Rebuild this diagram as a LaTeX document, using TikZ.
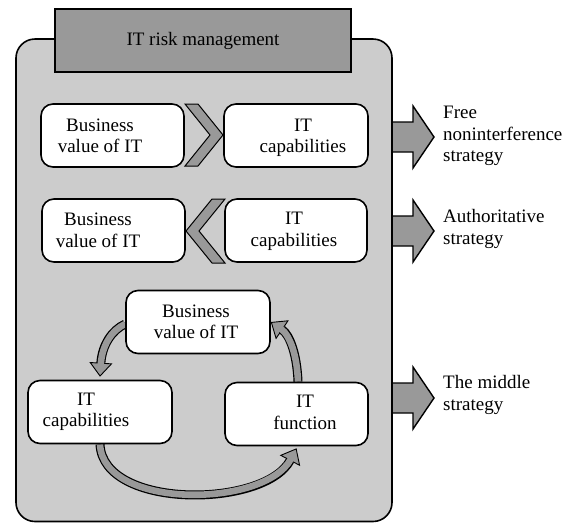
\documentclass[tikz,border=0pt]{standalone}
\usepackage{fontspec}
\setmainfont{Liberation Serif}
\usetikzlibrary{arrows.meta,calc}
\definecolor{lgray}{RGB}{204,204,204}
\definecolor{agray}{RGB}{153,153,153}
\pgfdeclarelayer{back}
\pgfdeclarelayer{mid}
\pgfsetlayers{back,mid,main}
\newcommand\cyclearrow[1]{%
  \draw[line width=0.9pt,-{Triangle[width=23pt,length=14pt,fill=agray]}] #1;
  \draw[line width=9pt,shorten >=13.5pt] #1;
  \draw[line width=6.6pt,agray,shorten >=12pt] #1;}
\begin{document}
\begin{tikzpicture}[x=1pt,y=-1pt,
  box/.style={draw,fill=white,line width=1.6pt,rounded corners=12pt,
    minimum width=143pt,minimum height=63pt,inner sep=0pt},
  txt/.style={font=\fontsize{19}{21.5}\selectfont,align=center,inner sep=0pt},
  rtxt/.style={txt,align=left,anchor=west},
  chev/.style={fill=agray,draw=black,line width=1pt,line join=miter},
  bigarrow/.style={fill=agray,draw=black,line width=1.4pt,line join=miter}]
\useasboundingbox (0,0) rectangle (569,523);

% boxes
\node[box] (bv1) at (112.5,135.5) {};
\node[box,minimum width=144pt] (cap1) at (296,135.5) {};
\node[box] (bv2) at (113.5,230.5) {};
\node[box,minimum width=142pt] (cap2) at (296,230.5) {};
\node[box,minimum width=144pt] (bv3) at (198,322) {};
\node[box,minimum width=144pt] (cap3) at (100,412) {};
\node[box] (fn3) at (296.5,414) {};

% texts in boxes
\node[txt] (bv1t) at (100,136) {Business\\value of IT};
\node[txt] (cap1t) at (303,138) {IT\\capabilities};
\node[txt] (bv2t) at (98,230.5) {Business\\value of IT};
\node[txt] (cap2t) at (294,231.5) {IT\\capabilities};
\node[txt] (bv3t) at (196,322) {Business\\value of IT};
\node[txt] (cap3t) at (86,412) {IT\\capabilities};
\node[txt] (fn3t) at (305,412.5) {IT\\function};

% title
\node[draw,fill=agray,line width=1.6pt,minimum width=296pt,minimum height=63pt,
  inner sep=0pt,font=\fontsize{19}{21.5}\selectfont] (title) at (203,40.5) {IT risk management};

% chevrons
\filldraw[chev] (185,104) -- (198,104) -- (223,135) -- (198,166) -- (185,166) -- (210,135) -- cycle;
\filldraw[chev] (225,199) -- (212,199) -- (186,231) -- (212,263) -- (225,263) -- (199,231) -- cycle;

% strategy texts
\node[rtxt] (s1) at (443,136) {Free\\noninterference\\strategy};
\node[rtxt] (s2) at (443,229) {Authoritative\\strategy};
\node[rtxt] (s3) at (443,395) {The middle\\strategy};

\begin{pgfonlayer}{back}
  \foreach \c in {137,231,398}
    \filldraw[bigarrow] (392,\c-15) -- (413,\c-15) -- (413,\c-31) -- (434,\c)
      -- (413,\c+31) -- (413,\c+15) -- (392,\c+15);
  \filldraw[fill=lgray,draw=black,line width=1.6pt,rounded corners=19pt]
    (16,39) rectangle (392,521.5);
\end{pgfonlayer}

\begin{pgfonlayer}{mid}
  \cyclearrow{($(bv3.west)+(0,2)$) .. controls (112,330) and (102,345) .. ($(cap3.north)+(0,-3)$)}
  \cyclearrow{($(fn3.north)+(1.5,0)$) .. controls (297,355) and (290,335) .. (bv3.east)}
  \cyclearrow{(cap3.south) .. controls (103,510) and (265,508) .. ($(fn3.south)+(0,2)$)}
\end{pgfonlayer}
\end{tikzpicture}
\end{document}
